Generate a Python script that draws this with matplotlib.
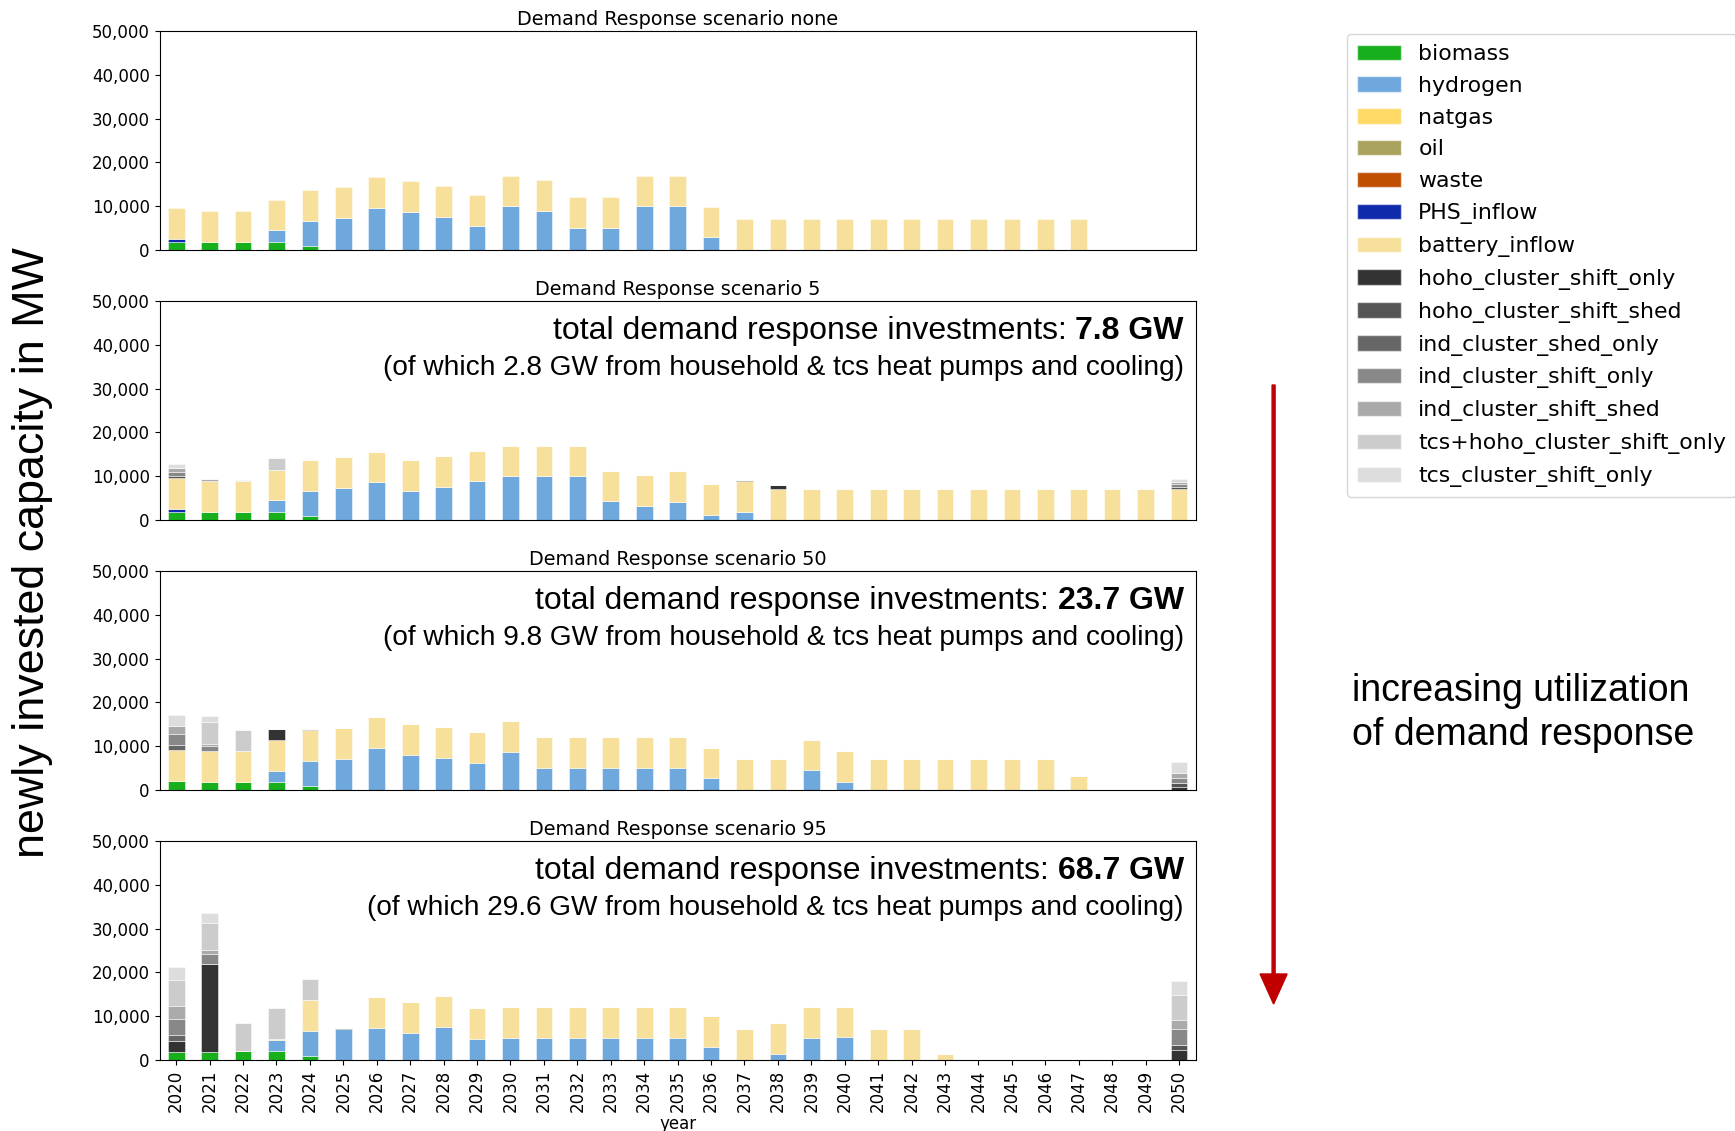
import matplotlib
matplotlib.use("Agg")
import matplotlib.pyplot as plt
from matplotlib.patches import Patch
from matplotlib.ticker import FuncFormatter
import numpy as np

years = list(range(2020, 2051))
n = len(years)


def series(values):
    """Expand {year: value} into a full list over all years."""
    return [values.get(y, 0) for y in years]


technologies = [
    "biomass", "hydrogen", "natgas", "oil", "waste", "PHS_inflow",
    "battery_inflow", "hoho_cluster_shift_only", "hoho_cluster_shift_shed",
    "ind_cluster_shed_only", "ind_cluster_shift_only", "ind_cluster_shift_shed",
    "tcs+hoho_cluster_shift_only", "tcs_cluster_shift_only",
]
colors = [
    "#17b01c", "#6fa8dc", "#ffd966", "#a9a35f", "#c04f00", "#0f2aaa",
    "#f7e09b", "#333333", "#555555", "#666666", "#888888", "#aaaaaa",
    "#cccccc", "#dddddd",
]

# ---- scenario "none" ----
none_biomass = series({2020: 1900, 2021: 1900, 2022: 1900, 2023: 1900, 2024: 900})
none_hydrogen = series({2023: 2600, 2024: 5800, 2025: 7400, 2026: 9700, 2027: 8700,
                        2028: 7500, 2029: 5500, 2030: 10000, 2031: 9000, 2032: 5000,
                        2033: 5000, 2034: 10000, 2035: 10000, 2036: 2900})
none_phs = series({2020: 700})
none_battery = series({y: 7000 for y in range(2020, 2048)})

# ---- scenario 5 ----
dr5_biomass = series({2020: 1900, 2021: 1900, 2022: 1900, 2023: 1900, 2024: 900})
dr5_hydrogen = series({2023: 2600, 2024: 5800, 2025: 7400, 2026: 8600, 2027: 6600,
                       2028: 7500, 2029: 8800, 2030: 10000, 2031: 10000, 2032: 10000,
                       2033: 4300, 2034: 3300, 2035: 4100, 2036: 1200, 2037: 1800})
dr5_phs = series({2020: 700})
dr5_battery = series({y: 7000 for y in range(2020, 2051)})
dr5_hoho_shift_only = series({2037: 300, 2038: 1000})
dr5_hoho_shift_shed = series({2020: 400, 2049: 150, 2050: 600})
dr5_ind_shed_only = series({})
dr5_ind_shift_only = series({2020: 950, 2050: 700})
dr5_ind_shift_shed = series({2020: 950, 2021: 400, 2050: 300})
dr5_tcs_hoho_shift_only = series({2023: 2600})
dr5_tcs_shift_only = series({2020: 950, 2022: 300, 2050: 800})

# ---- scenario 50 ----
dr50_biomass = series({2020: 2000, 2021: 1900, 2022: 1900, 2023: 1900, 2024: 1000})
dr50_hydrogen = series({2020: 100, 2023: 2500, 2024: 5700, 2025: 7100, 2026: 9700,
                        2027: 8000, 2028: 7400, 2029: 6200, 2030: 8700, 2031: 5000,
                        2032: 5000, 2033: 5000, 2034: 5000, 2035: 5000, 2036: 2700,
                        2039: 4500, 2040: 1900})
dr50_battery = series({**{y: 7000 for y in range(2020, 2047)}, 2047: 3200})
dr50_hoho_shift_only = series({2023: 2500, 2050: 770})
dr50_hoho_shift_shed = series({2050: 770})
dr50_ind_shed_only = series({2020: 1080})
dr50_ind_shift_only = series({2020: 2500, 2021: 1100, 2024: 300, 2050: 1150})
dr50_ind_shift_shed = series({2020: 1900, 2021: 450, 2050: 1150})
dr50_tcs_hoho_shift_only = series({2021: 5150, 2022: 4900})
dr50_tcs_shift_only = series({2020: 2500, 2021: 1380, 2050: 2620})

# ---- scenario 95 ----
dr95_biomass = series({2020: 1900, 2021: 1900, 2022: 2000, 2023: 2000, 2024: 1000})
dr95_hydrogen = series({2023: 2500, 2024: 5700, 2025: 7150, 2026: 7300, 2027: 6200,
                        2028: 7500, 2029: 4800, 2030: 5000, 2031: 5000, 2032: 5000,
                        2033: 5000, 2034: 5000, 2035: 5000, 2036: 3000, 2038: 1400,
                        2039: 5000, 2040: 5200})
dr95_battery = series({**{y: 7000 for y in range(2026, 2043)}, 2023: 300, 2024: 7000,
                       2043: 1400})
dr95_hoho_shift_only = series({2020: 2500, 2021: 20100, 2050: 2300})
dr95_hoho_shift_shed = series({2025: 200, 2050: 1150})
dr95_ind_shed_only = series({2020: 1300})
dr95_ind_shift_only = series({2020: 3700, 2021: 2150, 2050: 3600})
dr95_ind_shift_shed = series({2020: 3000, 2021: 1000, 2050: 2000})
dr95_tcs_hoho_shift_only = series({2020: 5900, 2021: 6100, 2022: 6400, 2023: 7100,
                                   2024: 4700, 2050: 5800})
dr95_tcs_shift_only = series({2020: 3000, 2021: 2300, 2050: 3150})

zeros = series({})

scenarios = [
    ("none", [none_biomass, none_hydrogen, zeros, zeros, zeros, none_phs, none_battery,
              zeros, zeros, zeros, zeros, zeros, zeros, zeros], None),
    ("5", [dr5_biomass, dr5_hydrogen, zeros, zeros, zeros, dr5_phs, dr5_battery,
           dr5_hoho_shift_only, dr5_hoho_shift_shed, dr5_ind_shed_only, dr5_ind_shift_only,
           dr5_ind_shift_shed, dr5_tcs_hoho_shift_only, dr5_tcs_shift_only],
     ("7.8 GW", "2.8 GW")),
    ("50", [dr50_biomass, dr50_hydrogen, zeros, zeros, zeros, zeros, dr50_battery,
            dr50_hoho_shift_only, dr50_hoho_shift_shed, dr50_ind_shed_only,
            dr50_ind_shift_only, dr50_ind_shift_shed, dr50_tcs_hoho_shift_only,
            dr50_tcs_shift_only],
     ("23.7 GW", "9.8 GW")),
    ("95", [dr95_biomass, dr95_hydrogen, zeros, zeros, zeros, zeros, dr95_battery,
            dr95_hoho_shift_only, dr95_hoho_shift_shed, dr95_ind_shed_only,
            dr95_ind_shift_only, dr95_ind_shift_shed, dr95_tcs_hoho_shift_only,
            dr95_tcs_shift_only],
     ("68.7 GW", "29.6 GW")),
]

W, H = 1735, 1131
fig = plt.figure(figsize=(W / 100, H / 100), dpi=100)

ax_left = 159.5 / W
ax_width = 1036.2 / W
ax_height = 219 / H
ax_bottoms = [250, 520, 790, 1060]

x = np.arange(n)
arial = "Liberation Sans"
axes = []
for i, (name, stack, note) in enumerate(scenarios):
    ax = fig.add_axes([ax_left, 1 - ax_bottoms[i] / H, ax_width, ax_height])
    axes.append(ax)
    bottom = np.zeros(n)
    for vals, col in zip(stack, colors):
        vals = np.array(vals, dtype=float)
        if vals.sum() > 0:
            ax.bar(x, vals, width=0.5, bottom=bottom, color=col,
                   edgecolor=(1, 1, 1, 0.55), linewidth=0.6)
        bottom += vals
    ax.set_xlim(-0.5, n - 0.5)
    ax.set_ylim(0, 50000)
    ax.set_yticks(range(0, 50001, 10000))
    ax.yaxis.set_major_formatter(FuncFormatter(lambda v, p: f"{int(v):,}"))
    ax.tick_params(axis="y", labelsize=12)
    ax.set_xticks(x)
    ax.set_title(f"Demand Response scenario {name}", fontsize=13.9, pad=4)
    if i < len(scenarios) - 1:
        ax.tick_params(axis="x", length=0, labelbottom=False)
    else:
        ax.set_xticklabels([str(y) for y in years], rotation=90, fontsize=12)
        ax.set_xlabel("year", fontsize=12, labelpad=2)

    if note is not None:
        total, household = note
        bold = ax.text(0.9885, 0.794, total, transform=ax.transAxes, ha="right",
                       va="bottom", fontsize=23, fontweight="bold", family=arial)
        ax.annotate("total demand response investments: ", xy=(0, 0), xycoords=bold,
                    ha="right", va="bottom", fontsize=23, family=arial)
        ax.text(0.9885, 0.695, f"(of which {household} from household & tcs heat pumps "
                "and cooling)", transform=ax.transAxes, ha="right", va="center",
                fontsize=20.2, family=arial)

handles = [Patch(facecolor=c, edgecolor=(1, 1, 1, 0.55), label=t)
           for t, c in zip(technologies, colors)]
fig.legend(handles=handles, loc="upper left", bbox_to_anchor=(1347 / W, 1 - 34 / H),
           borderaxespad=0, fontsize=15.8, labelspacing=0.54, handlelength=2.0,
           handleheight=0.7, borderpad=0.45)

fig.text(33 / W, 1 - 553 / H, "newly invested capacity in MW", rotation=90,
         ha="center", va="center", fontsize=32.3, family=arial)
fig.text(1352 / W, 1 - 713 / H, "increasing utilization\nof demand response",
         ha="left", va="center", fontsize=27, family=arial, linespacing=1.32)

overlay = fig.add_axes([0, 0, 1, 1], zorder=-1)
overlay.set_xlim(0, W)
overlay.set_ylim(H, 0)
overlay.axis("off")
overlay.arrow(1273.6, 385, 0, 619, width=3, head_width=27, head_length=30,
              length_includes_head=True, color="#c00000")

fig.savefig("out.png", dpi=100)
